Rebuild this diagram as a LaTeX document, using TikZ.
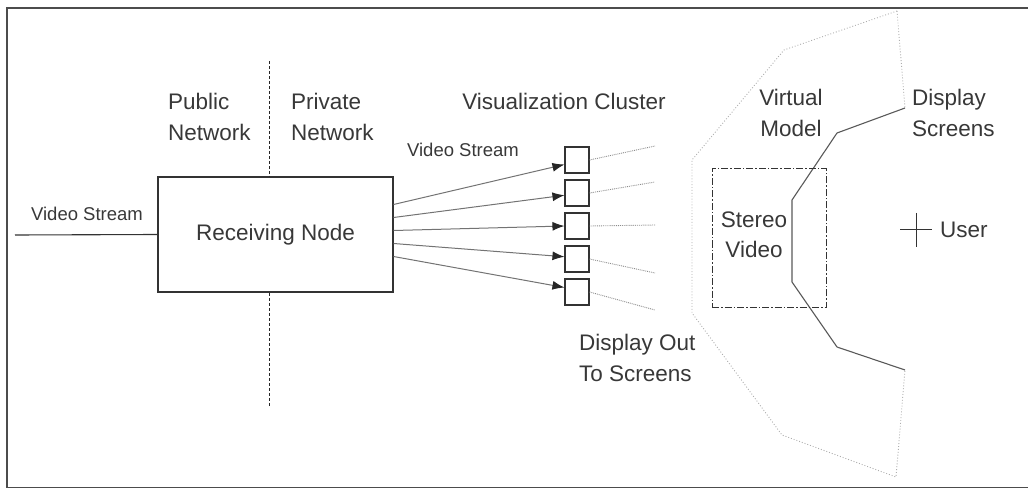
\documentclass[tikz,border=0pt]{standalone}
\usepackage{fontspec}
\setmainfont{Liberation Sans}
\usetikzlibrary{arrows.meta}

\begin{document}
\begin{tikzpicture}[x=1pt,y=-1pt,
  ink/.style={draw=black!80,line width=1.1pt},
  lbl/.style={text=black!78,font=\fontsize{22.5}{31}\selectfont,align=left,inner sep=0pt},
  lblc/.style={lbl,align=center},
  small/.style={text=black!78,font=\fontsize{18.5}{22}\selectfont,inner sep=0pt},
  block/.style={ink,lbl,minimum width=235pt,minimum height=115pt},
  vc/.style={ink,minimum width=24pt,minimum height=26pt,inner sep=0pt},
  feed/.style={draw=black!55,line width=1pt,-{Latex[length=12pt,width=9pt,black!85]}},
  toscreen/.style={draw=black!45,line width=0.9pt,densely dotted},
  divider/.style={draw=black!85,line width=1pt,dash pattern=on 3pt off 2pt},
  hull/.style={draw=black!32,line width=0.9pt,dotted},
  screen/.style={draw=black!65,line width=1.1pt}]
  \useasboundingbox (0,0) rectangle (1028,489);
  \draw[black!70,line width=1.5pt] (1028,8) -- (7,8) -- (7,487.5) -- (1028,487.5);

  \node (recv) at (275.5,234.5) [block] {Receiving Node};
  \coordinate (src) at (15,235);
  \draw[ink] (src) to (recv.west);
  \node (srclbl) at (87,214) [small] {Video Stream};

  \coordinate (divtop) at (269,61);
  \coordinate (divbot) at (269,407);
  \draw[divider] (divtop) to (divtop |- recv.north);
  \draw[divider] (divtop |- recv.south) to (divbot);
  \node (public) at (168,116.5) [lbl,anchor=west] {Public\\Network};
  \node (private) at (291,116.5) [lbl,anchor=west] {Private\\Network};

  \foreach \i/\ey in {1/146,2/182,3/225,4/273,5/310}{
    \node (c\i) at (577,{127+33*\i}) [vc] {};
    \coordinate (o\i) at ([yshift={43pt-13pt*\i}]recv.east);
    \coordinate (e\i) at (655,\ey);
    \draw[feed] (o\i) to ([yshift={2.25pt*\i-6.75pt}]c\i.west);
    \draw[toscreen] (c\i.east) to (e\i);
  }
  \node (vidlbl) at (463,150) [small] {Video Stream};
  \node (cluster) at (564,101) [lbl] {Visualization Cluster};
  \node (dispout) at (579,357.5) [lbl,anchor=west] {Display Out\\To Screens};

  \draw[hull] (897,11) -- (784,50) -- (692,160) -- (692,313) -- (782,435) -- (896,477) -- (905,370);
  \draw[hull] (897,11) -- (905,108);
  \draw[screen] (905,108) -- (837,133) -- (792,200) -- (792,282) -- (837,347) -- (905,370);

  \node (stereo) at (769,238) [draw=black!80,line width=1pt,dash pattern=on 7pt off 2pt on 1.5pt off 2pt,minimum width=114pt,minimum height=138pt] {};
  \node (stereolbl) at (754,235) [lblc,font=\fontsize{22.5}{30}\selectfont] {Stereo\\Video};
  \node (virtual) at (791,112.5) [lblc] {Virtual\\Model};
  \node (screens) at (912,112.5) [lbl,anchor=west] {Display\\Screens};

  \coordinate (user) at (916,230);
  \draw[ink,line width=1pt] ([xshift=-16pt]user) -- ([xshift=16pt]user)
    ([yshift=17pt]user) -- ([yshift=-17pt]user);
  \node (userlbl) at (940,230) [lbl,anchor=west] {User};
\end{tikzpicture}
\end{document}
